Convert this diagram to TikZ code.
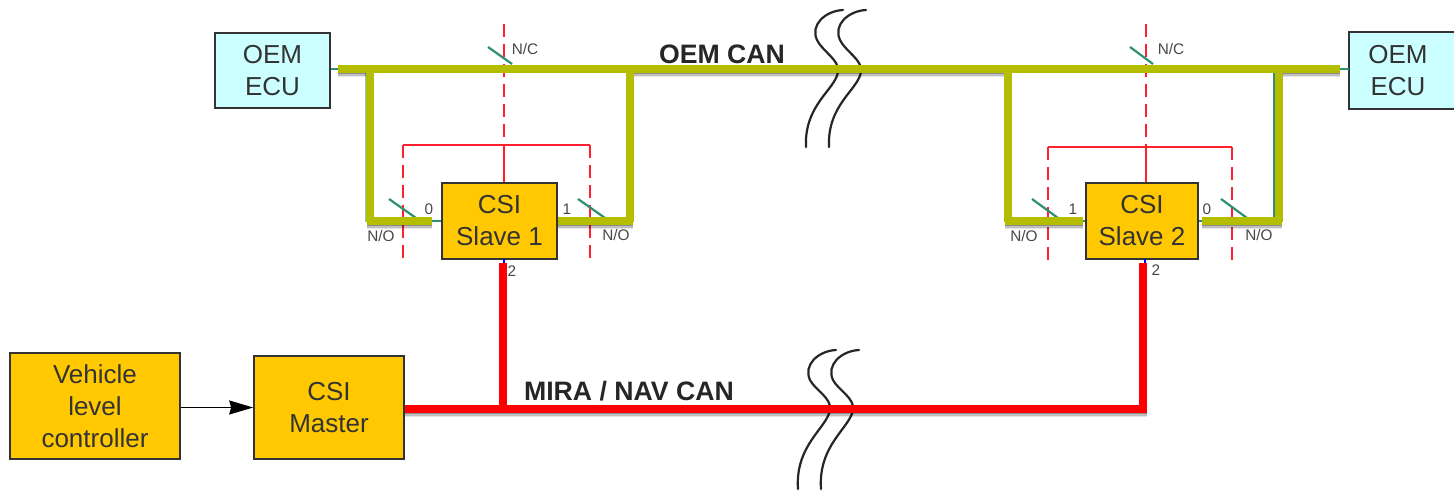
\documentclass[tikz,border=0pt]{standalone}
\usepackage{fontspec}
\setmainfont{Liberation Sans}
\usetikzlibrary{arrows.meta}
\def\px{0.75pt}
\definecolor{busolive}{HTML}{B5BD00}
\definecolor{swgreen}{HTML}{2F9070}
\definecolor{boxyellow}{HTML}{FFC800}
\definecolor{boxcyan}{HTML}{CCFFFF}
\definecolor{lblgray}{HTML}{484848}
\definecolor{ctrlred}{HTML}{FF2030}
\tikzset{
  box/.style={draw=black!80,line width=1.6*\px,inner sep=0pt,align=center,font=\fontsize{19.5}{24}\selectfont,text=black!80},
  ecubox/.style={box,fill=boxcyan,minimum width=115*\px,minimum height=75*\px},
  slavebox/.style={box,fill=boxyellow,minimum width=115*\px,minimum height=76*\px},
  oembar/.style={draw=busolive,line width=7.6*\px},
  redbar/.style={draw=red,line width=7.6*\px},
  swline/.style={draw=swgreen,line width=2.2*\px},
  stub/.style={draw=swgreen,line width=1.6*\px},
  ctldash/.style={draw=ctrlred,line width=1.4*\px,dash pattern=on 13*\px off 7*\px},
  ctl/.style={draw=ctrlred,line width=1.4*\px},
  brk/.style={draw=black!85,line width=2.2*\px,line cap=round},
  small/.style={font=\fontsize{11.5}{12}\selectfont,text=lblgray,inner sep=0pt},
  buslabel/.style={font=\bfseries\fontsize{20}{22}\selectfont,text=black!85,inner sep=0pt},
  shade1/.style={draw=black,opacity=.45,line width=1.5*\px},
  shade2/.style={draw=black,opacity=.25,line width=1.5*\px},
  shade3/.style={draw=black,opacity=.1,line width=1.5*\px},
}
% soft shadow beneath a bar, from #1 to #2, #3 px below the bar's axis
\newcommand{\softshadow}[3]{%
  \draw[shade1] ([yshift=-#3*\px-0.5*\px]#1) -- ([yshift=-#3*\px-0.5*\px]#2);
  \draw[shade2] ([yshift=-#3*\px-2*\px]#1) -- ([yshift=-#3*\px-2*\px]#2);
  \draw[shade3] ([yshift=-#3*\px-3.5*\px]#1) -- ([yshift=-#3*\px-3.5*\px]#2);
}
\begin{document}
\begin{tikzpicture}[x=\px,y=-\px]
\useasboundingbox (0,0) rectangle (1454,491);
\fill[white] (0,0) rectangle (1454,491);

% break marks
\foreach \d in {0,23}{
  \draw[brk,xshift=\d*\px] (843,10) .. controls (825,11) and (810,25) .. (817,40) .. controls (822,51) and (840,60) .. (838,72) .. controls (835,90) and (804,105) .. (806,147);
  \draw[brk,xshift=\d*\px] (836,350) .. controls (818,351) and (803,365) .. (810,380) .. controls (815,390) and (832,398) .. (830,410) .. controls (827,428) and (795,445) .. (798,489);
}

% nodes
\node[ecubox] (ecuL) at (272.5,70.5) {OEM\\ECU};
\node[box,draw=none,fill=boxcyan,minimum width=104*\px,minimum height=75*\px] (ecuR) at (1402,70.5) {OEM\kern 6pt\\ECU\kern 6pt};
\draw[draw=black!80,line width=1.6*\px] (ecuR.north east) -- (ecuR.north west) -- (ecuR.south west) -- (ecuR.south east);
\node[slavebox] (s1) at (499.5,221) {CSI\\Slave 1};
\node[slavebox,minimum width=112*\px] (s2) at (1142,221) {CSI\\Slave 2};
\node[box,fill=boxyellow,minimum width=170*\px,minimum height=106*\px] (veh) at (95,406) {Vehicle\\level\\controller};
\node[box,fill=boxyellow,minimum width=150*\px,minimum height=103*\px] (master) at (329,407.5) {CSI\\Master};

% junction coordinates
\coordinate (busL) at (338,69);
\coordinate (busR) at (1340,69);
\coordinate (d1a) at (370,69);  \coordinate (d1b) at (630,69);
\coordinate (d2a) at (1008,69); \coordinate (d2b) at (1279,69);
\coordinate (c1a) at (370,222); \coordinate (e1a) at (432,221);
\coordinate (c1b) at (630,222); \coordinate (e1b) at (558,221);
\coordinate (c2a) at (1008,222);\coordinate (e2a) at (1083,221);
\coordinate (c2b) at (1279,222);\coordinate (e2b) at (1202,221);
\coordinate (h1a) at (367,221); \coordinate (h1b) at (633,221);
\coordinate (h2a) at (1005,221);\coordinate (h2b) at (1282,221);
\coordinate (t1) at (504,24); \coordinate (m1) at (504,145);
\coordinate (t2) at (1146,24);\coordinate (m2) at (1146,147);
\coordinate (l1t) at (403,145);\coordinate (l1b) at (403,259);
\coordinate (r1t) at (590,145);\coordinate (r1b) at (590,259);
\coordinate (l2t) at (1048,147);\coordinate (l2b) at (1048,261);
\coordinate (r2t) at (1232,147);\coordinate (r2b) at (1232,261);
\coordinate (j1) at (503,409); \coordinate (j2) at (1143,409);
\coordinate (jend) at (1147,409);
\coordinate (p1) at (503,263); \coordinate (p2) at (1143,263);

% control lines
\draw[ctldash] (t1) -- (m1);
\draw[ctldash] (t2) -- (m2);
\draw[ctl] (l1t) -- (r1t);
\draw[ctl] (l2t) -- (r2t);
\draw[ctl] (m1) -- (m1 |- s1.north);
\draw[ctl] (m2) -- (m2 |- s2.north);
\draw[ctldash] (l1t) -- (l1b);
\draw[ctldash] (r1t) -- (r1b);
\draw[ctldash] (l2t) -- (l2b);
\draw[ctldash] (r2t) -- (r2b);

% thin links
\draw[stub] (ecuL.east |- busL) -- (busL);
\draw[stub] (busR) -- (ecuR.west |- busR);
\draw[stub] (e1a) -- (s1.west |- e1a);
\draw[stub] (e1b) -- (s1.east |- e1b);
\draw[stub] (e2a) -- (s2.west |- e2a);
\draw[stub] (e2b) -- (s2.east |- e2b);
\draw[stub] (1274,72) -- (1274,220);
\draw[stub,opacity=.5] (366,72) -- (366,222);
\draw[draw=blue,line width=1.6*\px] (504,259) -- (504,264);
\draw[draw=blue,line width=1.6*\px] (1145,259) -- (1145,264);

% switch blades
\draw[swline] (488,47) -- (512,64);
\draw[swline] (1130,47) -- (1153,64);
\draw[swline] (389,199) -- (416,218);
\draw[swline] (578,199) -- (605,218);
\draw[swline] (1032,199) -- (1058,218);
\draw[swline] (1221,199) -- (1247,218);

% soft shadows
\softshadow{busL}{d1a}{4}
\softshadow{d1b}{d2a}{4}
\softshadow{d2b}{busR}{4}
\softshadow{h1a}{e1a}{4}
\softshadow{e1b}{h1b}{4}
\softshadow{h2a}{e2a}{4}
\softshadow{e2b}{h2b}{4}
\softshadow{master.east |- j2}{jend}{4}

% OEM CAN
\draw[oembar] (busL) -- (busR);
\draw[oembar] (d1a) -- (c1a);
\draw[oembar] (d1b) -- (c1b);
\draw[oembar] (d2a) -- (c2a);
\draw[oembar] (d2b) -- (c2b);
\draw[oembar] (h1a) -- (e1a);
\draw[oembar] (e1b) -- (h1b);
\draw[oembar] (h2a) -- (e2a);
\draw[oembar] (e2b) -- (h2b);

% MIRA / NAV CAN
\draw[redbar] (master.east |- j2) -- (jend);
\draw[redbar] (j1) -- (p1);
\draw[redbar] (j2) -- (p2);

% arrow
\draw[draw=black,line width=1.4*\px,-{Stealth[length=24*\px,width=14*\px,inset=2*\px]}] (veh.east |- master) -- (master.west);

% labels
\node[buslabel] (oemcan) at (722,54) {OEM CAN};
\node[buslabel] (miracan) at (629,391) {MIRA / NAV CAN};
\node[small] (nc1) at (525,49) {N/C};
\node[small] (nc2) at (1171,49) {N/C};
\node[small] (no1) at (381,236) {N/O};
\node[small] (no2) at (616,235) {N/O};
\node[small] (no3) at (1024,236) {N/O};
\node[small] (no4) at (1259,235) {N/O};
\node[small] (p10) at (429,209) {0};
\node[small] (p11) at (567,209) {1};
\node[small] (p12) at (512,271) {2};
\node[small] (p21) at (1073,209) {1};
\node[small] (p20) at (1207,209) {0};
\node[small] (p22) at (1156,270) {2};
\end{tikzpicture}
\end{document}
